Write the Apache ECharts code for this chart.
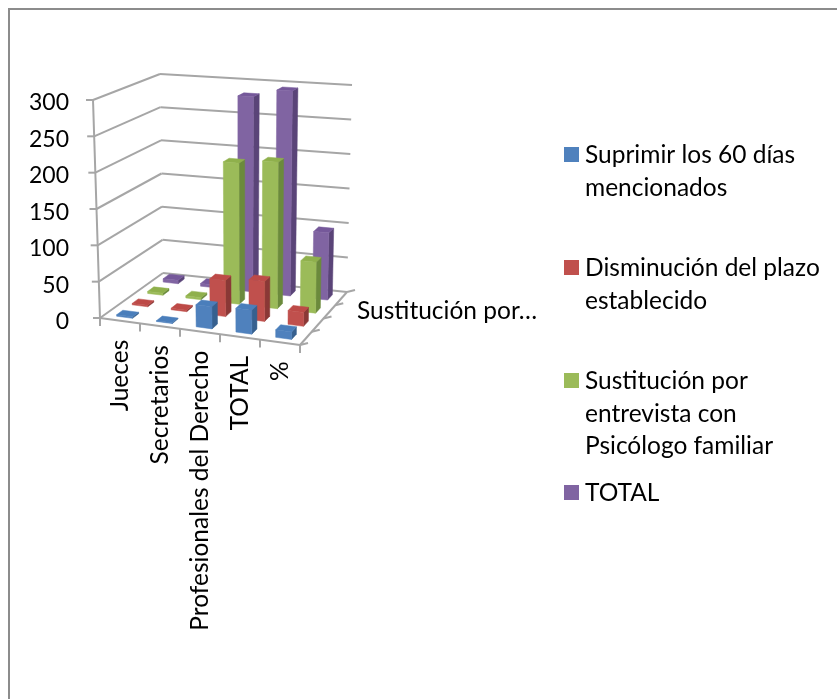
<!DOCTYPE html>
<html>
<head>
<meta charset="utf-8">
<style>
  html, body { margin: 0; padding: 0; background: #fff; }
  #chart { width: 837px; height: 699px; }
</style>
<script src="https://cdn.jsdelivr.net/npm/echarts@6/dist/echarts.min.js"></script>
</head>
<body>
<div id="chart"></div>
<script>
const categories = ['Jueces', 'Secretarios', 'Profesionales del Derecho', 'TOTAL', '%']
const yTicks = [0, 50, 100, 150, 200, 250, 300]
const depthLabel = 'Sustitución por…'

const seriesNames = ['Suprimir los 60 días\nmencionados', 'Disminución del plazo\nestablecido', 'Sustitución por\nentrevista con\nPsicólogo familiar', 'TOTAL']
const suprimir = [2, 1, 30, 32, 10]
const disminucion = [2, 2, 50, 55, 19]
const sustitucion = [3, 3, 200, 206, 71]
const total = [5, 4, 283, 295, 96]
const seriesValues = [suprimir, disminucion, sustitucion, total]

// front, side, top
const colors = [
  ['#4f81bd', '#37608f', '#4a7ebb'],
  ['#c0504d', '#8a3836', '#bd4a47'],
  ['#9bbb59', '#6b8a3c', '#8fb04c'],
  ['#8064a2', '#5a4478', '#75589a']
]
const legendMarks = ['#4f81bd', '#c0504d', '#9bbb59', '#8064a2']
const legendTops = [147, 260, 373, 485]

const FONT = 'Lato'
const FONT_SIZE = 24.5
const TICK_FONT_SIZE = 23
const LINE = '#a6a6a6'

// corners of the plot box on the page, the box gets warped between them
const box = {
  frontLeftBottom: [100, 318], frontLeftTop: [93, 100],
  backLeftBottom: [163, 273], backLeftTop: [160, 74],
  frontRightBottom: [300, 345], frontRightTop: [301, 118],
  backRightBottom: [347, 292], backRightTop: [352, 85]
}

const mix = (a, b, t) => [a[0] + (b[0] - a[0]) * t, a[1] + (b[1] - a[1]) * t]

// nu, nw, nv all 0..1 -> pixel
const warp = (nu, nw, nv) => {
  const bottomFront = mix(box.frontLeftBottom, box.frontRightBottom, nu)
  const bottomBack = mix(box.backLeftBottom, box.backRightBottom, nu)
  const topFront = mix(box.frontLeftTop, box.frontRightTop, nu)
  const topBack = mix(box.backLeftTop, box.backRightTop, nu)
  return mix(mix(bottomFront, bottomBack, nw), mix(topFront, topBack, nw), nv)
}

// u in category units, w in series units, v in axis units
const projector = (params, api) => {
  const cs = params.coordSys
  const band = api.size([1, 0])[0]
  const x0 = api.coord([0, 0])[0] - band / 2
  return (u, w, v) => {
    const nu = (x0 + u * band - cs.x) / cs.width
    const nv = (cs.y + cs.height - api.coord([0, v])[1]) / cs.height
    return warp(nu, w / seriesValues.length, nv)
  }
}

const poly = (points, fill) => ({
  type: 'polygon',
  shape: { points },
  style: { fill, stroke: fill, lineWidth: 0.5 }
})

const segment = (a, b) => ({
  type: 'line',
  shape: { x1: a[0], y1: a[1], x2: b[0], y2: b[1] },
  style: { stroke: LINE, lineWidth: 2 }
})

const renderFrame = (params, api) => {
  const p = projector(params, api)
  const n = categories.length
  const m = seriesValues.length
  const children = []

  yTicks.forEach(v => {
    const front = p(0, 0, v)
    children.push(segment(front, p(0, m, v)))
    children.push(segment(p(0, m, v), p(n, m, v)))
    children.push(segment(front, [front[0] - 7, front[1]]))
  })
  children.push(segment(p(0, 0, 0), p(0, 0, 300)))
  children.push(segment(p(0, 0, 0), p(n, 0, 0)))
  children.push(segment(p(n, 0, 0), p(n, m, 0)))

  for (let i = 0; i <= n; i++) {
    const t = p(i, 0, 0)
    children.push(segment(t, [t[0], t[1] + 8]))
  }
  for (let j = 0; j <= m; j++) {
    const t = p(n, j, 0)
    children.push(segment(t, [t[0] + 8, t[1] - 2]))
  }

  categories.forEach((name, i) => {
    const t = p(i + 0.5, 0, 0)
    children.push({
      type: 'text',
      x: t[0],
      y: t[1] + 19,
      rotation: Math.PI / 2,
      style: { text: name, font: `${FONT_SIZE}px ${FONT}`, fill: '#000', textAlign: 'right', textVerticalAlign: 'middle' }
    })
  })

  return { type: 'group', children }
}

const renderBar = (j) => (params, api) => {
  const p = projector(params, api)
  const i = api.value(0)
  const v = api.value(1)
  const u0 = i + 0.3, u1 = i + 0.7
  const w0 = j + 0.3, w1 = j + 0.7
  const c = colors[j]
  return {
    type: 'group',
    children: [
      poly([p(u1, w0, 0), p(u1, w1, 0), p(u1, w1, v), p(u1, w0, v)], c[1]),
      poly([p(u0, w0, v), p(u1, w0, v), p(u1, w1, v), p(u0, w1, v)], c[2]),
      poly([p(u0, w0, 0), p(u1, w0, 0), p(u1, w0, v), p(u0, w0, v)], c[0])
    ]
  }
}

const legendGraphics = []
seriesNames.forEach((name, j) => {
  legendGraphics.push({
    type: 'rect',
    left: 564,
    top: legendTops[j],
    shape: { width: 15, height: 15 },
    style: { fill: legendMarks[j] }
  })
  legendGraphics.push({
    type: 'text',
    left: 585,
    top: legendTops[j] - 8,
    style: { text: name, font: `${FONT_SIZE}px ${FONT}`, fill: '#000', lineHeight: 32.5 }
  })
})

const chart = echarts.init(document.getElementById('chart'), null, { renderer: 'canvas' })

chart.setOption({
  animation: false,
  backgroundColor: '#fff',
  grid: { left: 93, top: 103, width: 207, height: 219 },
  xAxis: { type: 'category', data: categories, show: false },
  yAxis: {
    type: 'value',
    min: 0,
    max: 300,
    interval: 50,
    axisLine: { show: false },
    axisTick: { show: false },
    splitLine: { show: false },
    axisLabel: { color: '#000', fontFamily: FONT, fontSize: TICK_FONT_SIZE, margin: 24 }
  },
  graphic: [
    {
      type: 'polyline',
      shape: { points: [[9, 699], [9, 9], [837, 9]] },
      style: { stroke: '#8c8c8c', lineWidth: 2, fill: null }
    },
    {
      type: 'text',
      left: 357,
      top: 299,
      style: { text: depthLabel, font: `${FONT_SIZE}px ${FONT}`, fill: '#000' }
    },
    ...legendGraphics
  ],
  series: [
    {
      type: 'custom',
      z: 1,
      data: [[0, 0]],
      renderItem: renderFrame,
      silent: true
    },
    ...seriesValues.map((values, j) => ({
      name: seriesNames[j],
      type: 'custom',
      z: 10 - j,
      data: values.map((v, i) => [i, v]),
      encode: { x: 0, y: 1 },
      renderItem: renderBar(j)
    }))
  ]
})
</script>
</body>
</html>
